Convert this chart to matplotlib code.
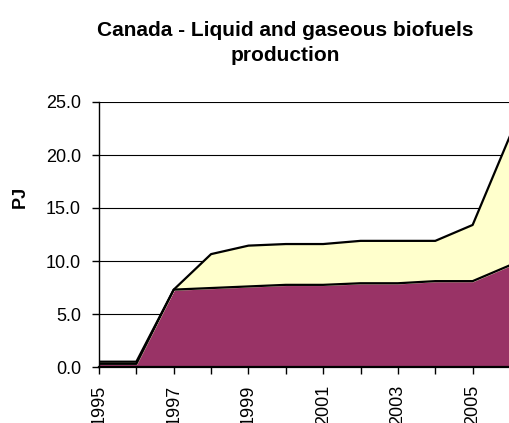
import numpy as np
import matplotlib.pyplot as plt

plt.rcParams['font.family'] = ['Liberation Sans', 'DejaVu Sans']

years = list(range(1995, 2007))
# bottom series (purple) and top series (yellow), PJ
series_a = [0.3, 0.3, 7.3, 7.45, 7.6, 7.75, 7.75, 7.9, 7.9, 8.1, 8.1, 9.6]
series_b = [0.2, 0.2, 0.0, 3.2, 3.85, 3.85, 3.85, 4.0, 4.0, 3.8, 5.3, 12.2]

fig = plt.figure(figsize=(5.10, 4.23), dpi=100)
ax = fig.add_axes([99/510, 1 - 367/423, 411/510, 265/423])

total = np.array(series_a) + np.array(series_b)
ax.fill_between(years, 0, series_a, color='#993366', zorder=2)
ax.fill_between(years, series_a, total, color='#FFFFCC', zorder=2)
ax.plot(years, series_a, color='black', lw=1.6, zorder=3)
ax.plot(years, total, color='black', lw=1.6, zorder=3)

ax.set_xlim(1995, 2006)
ax.set_ylim(0, 25)
ax.set_yticks(np.arange(0, 26, 5))
ax.set_yticklabels(['%.1f' % v for v in np.arange(0, 26, 5)], fontsize=13)
ax.set_xticks(years)
ax.set_xticklabels([str(y) if y % 2 == 1 else '' for y in years], rotation=90, fontsize=13)
ax.tick_params(axis='both', direction='out', length=5, color='black', width=1, pad=8)
ax.yaxis.grid(True, color='black', lw=0.8, zorder=1)
ax.set_axisbelow(True)

for s in ['top', 'right']:
    ax.spines[s].set_visible(False)
ax.spines['left'].set_linewidth(1)
ax.spines['bottom'].set_linewidth(1.6)
ax.spines['bottom'].set_zorder(4)

fig.text(20/510, 1 - 197/423, 'PJ', rotation=90, ha='center', va='center',
         fontsize=13, fontweight='bold')
fig.text(285/510, 1 - 43/423, 'Canada - Liquid and gaseous biofuels\nproduction', ha='center',
         va='center', fontsize=15, fontweight='bold', linespacing=1.45)

fig.savefig('out.png', dpi=100)
